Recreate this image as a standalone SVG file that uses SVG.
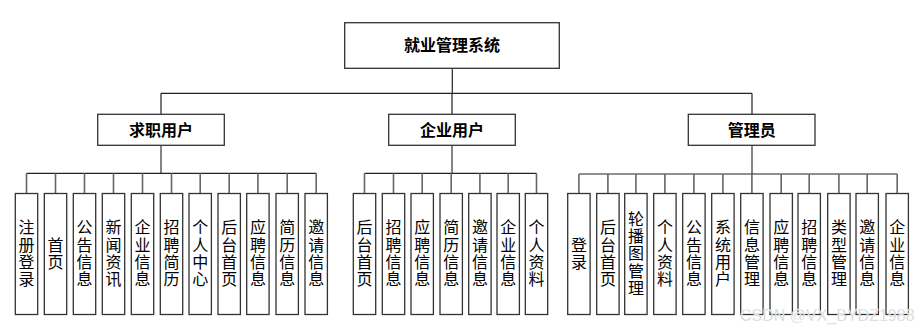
<svg xmlns="http://www.w3.org/2000/svg" width="924" height="331" viewBox="0 0 924 331">
<style>
.box{fill:#fff;stroke:#333;stroke-width:1.3}
.t{font-family:"Noto Sans CJK SC","Liberation Sans",sans-serif;font-size:16px;fill:#000;text-anchor:middle}
.b{font-weight:bold}
.v{writing-mode:vertical-rl;letter-spacing:1.4px}
.ln{stroke:#222;stroke-width:1.2;fill:none}
.vl{stroke:#666;stroke-width:1.6;fill:none}
.wm{font-family:"Liberation Sans",Arial,sans-serif;font-size:16px;fill:#d0d0d0;stroke:#fff;stroke-width:0.3}
</style>
<rect width="924" height="331" fill="#fff"/>
<g id="connectors">
<path class="ln" d="M452.3 68.3V93.3M161 93.3H752M161 93.3V114.3M452 93.3V114.3M752 93.3V114.3"/>
<path class="vl" d="M161 145.3V173.3M452 145.3V173.3M752 145.3V174"/>
<path class="ln" d="M26.5 173.3H316.2M364.5 173.3H536.5M579 174H897.2"/>
<path class="vl" d="M26.5 173.3V193.5M55.5 173.3V193.5M84.5 173.3V193.5M113.5 173.3V193.5M142.5 173.3V193.5M171.5 173.3V193.5M200.2 173.3V193.5M229.2 173.3V193.5M257.9 173.3V193.5M287.2 173.3V193.5M316.2 173.3V193.5"/>
<path class="vl" d="M364.5 173.3V193.5M393.5 173.3V193.5M422.2 173.3V193.5M451.2 173.3V193.5M479.9 173.3V193.5M508.2 173.3V193.5M536.5 173.3V193.5"/>
<path class="vl" d="M578.9 174V193.5M607.9 174V193.5M635.9 174V193.5M664.9 174V193.5M693.9 174V193.5M722.9 174V193.5M751.9 174V193.5M781.2 174V193.5M809.2 174V193.5M838.9 174V193.5M867.2 174V193.5M897.2 174V193.5"/>
</g>
<g id="root"><rect class="box" x="344.7" y="22.7" width="214.6" height="45.6"/><text class="t b" x="452" y="51">就业管理系统</text></g>
<g id="jobseeker"><rect class="box" x="97.7" y="114.3" width="126.6" height="31"/><text class="t b" x="161" y="135.5">求职用户</text></g>
<g id="company"><rect class="box" x="388.7" y="114.3" width="126.6" height="31"/><text class="t b" x="452" y="135.5">企业用户</text></g>
<g id="admin"><rect class="box" x="688.3" y="114.3" width="126.7" height="31"/><text class="t b" x="751.7" y="135.5">管理员</text></g>

<g id="j1"><rect class="box" x="15.3" y="193.5" width="22.4" height="121"/><text class="t v" x="26.5" y="254">注册登录</text></g>
<g id="j2"><rect class="box" x="44.3" y="193.5" width="22.4" height="121"/><text class="t v" x="55.5" y="254">首页</text></g>
<g id="j3"><rect class="box" x="73.3" y="193.5" width="22.4" height="121"/><text class="t v" x="84.5" y="254">公告信息</text></g>
<g id="j4"><rect class="box" x="102.3" y="193.5" width="22.4" height="121"/><text class="t v" x="113.5" y="254">新闻资讯</text></g>
<g id="j5"><rect class="box" x="131.3" y="193.5" width="22.4" height="121"/><text class="t v" x="142.5" y="254">企业信息</text></g>
<g id="j6"><rect class="box" x="160.3" y="193.5" width="22.4" height="121"/><text class="t v" x="171.5" y="254">招聘简历</text></g>
<g id="j7"><rect class="box" x="189" y="193.5" width="22.4" height="121"/><text class="t v" x="200.2" y="254">个人中心</text></g>
<g id="j8"><rect class="box" x="218" y="193.5" width="22.4" height="121"/><text class="t v" x="229.2" y="254">后台首页</text></g>
<g id="j9"><rect class="box" x="246.7" y="193.5" width="22.4" height="121"/><text class="t v" x="257.9" y="254">应聘信息</text></g>
<g id="j10"><rect class="box" x="276" y="193.5" width="22.4" height="121"/><text class="t v" x="287.2" y="254">简历信息</text></g>
<g id="j11"><rect class="box" x="305" y="193.5" width="22.4" height="121"/><text class="t v" x="316.2" y="254">邀请信息</text></g>

<g id="c1"><rect class="box" x="353.3" y="193.5" width="22.4" height="121"/><text class="t v" x="364.5" y="254">后台首页</text></g>
<g id="c2"><rect class="box" x="382.3" y="193.5" width="22.4" height="121"/><text class="t v" x="393.5" y="254">招聘信息</text></g>
<g id="c3"><rect class="box" x="411" y="193.5" width="22.4" height="121"/><text class="t v" x="422.2" y="254">应聘信息</text></g>
<g id="c4"><rect class="box" x="440" y="193.5" width="22.4" height="121"/><text class="t v" x="451.2" y="254">简历信息</text></g>
<g id="c5"><rect class="box" x="468.7" y="193.5" width="22.4" height="121"/><text class="t v" x="479.9" y="254">邀请信息</text></g>
<g id="c6"><rect class="box" x="497" y="193.5" width="22.4" height="121"/><text class="t v" x="508.2" y="254">企业信息</text></g>
<g id="c7"><rect class="box" x="525.3" y="193.5" width="22.4" height="121"/><text class="t v" x="536.5" y="254">个人资料</text></g>

<g id="a1"><rect class="box" x="567.7" y="193.5" width="22.4" height="121"/><text class="t v" x="578.9" y="254">登录</text></g>
<g id="a2"><rect class="box" x="596.7" y="193.5" width="22.4" height="121"/><text class="t v" x="607.9" y="254">后台首页</text></g>
<g id="a3"><rect class="box" x="624.7" y="193.5" width="22.4" height="121"/><text class="t v" x="635.9" y="254">轮播图管理</text></g>
<g id="a4"><rect class="box" x="653.7" y="193.5" width="22.4" height="121"/><text class="t v" x="664.9" y="254">个人资料</text></g>
<g id="a5"><rect class="box" x="682.7" y="193.5" width="22.4" height="121"/><text class="t v" x="693.9" y="254">公告信息</text></g>
<g id="a6"><rect class="box" x="711.7" y="193.5" width="22.4" height="121"/><text class="t v" x="722.9" y="254">系统用户</text></g>
<g id="a7"><rect class="box" x="740.7" y="193.5" width="22.4" height="121"/><text class="t v" x="751.9" y="254">信息管理</text></g>
<g id="a8"><rect class="box" x="770" y="193.5" width="22.4" height="121"/><text class="t v" x="781.2" y="254">应聘信息</text></g>
<g id="a9"><rect class="box" x="798" y="193.5" width="22.4" height="121"/><text class="t v" x="809.2" y="254">招聘信息</text></g>
<g id="a10"><rect class="box" x="827.7" y="193.5" width="22.4" height="121"/><text class="t v" x="838.9" y="254">类型管理</text></g>
<g id="a11"><rect class="box" x="856" y="193.5" width="22.4" height="121"/><text class="t v" x="867.2" y="254">邀请信息</text></g>
<g id="a12"><rect class="box" x="886" y="193.5" width="22.4" height="121"/><text class="t v" x="897.2" y="254">企业信息</text></g>

<text class="wm" x="740" y="320.5">CSDN @VX_BYDZ1988</text>
</svg>
